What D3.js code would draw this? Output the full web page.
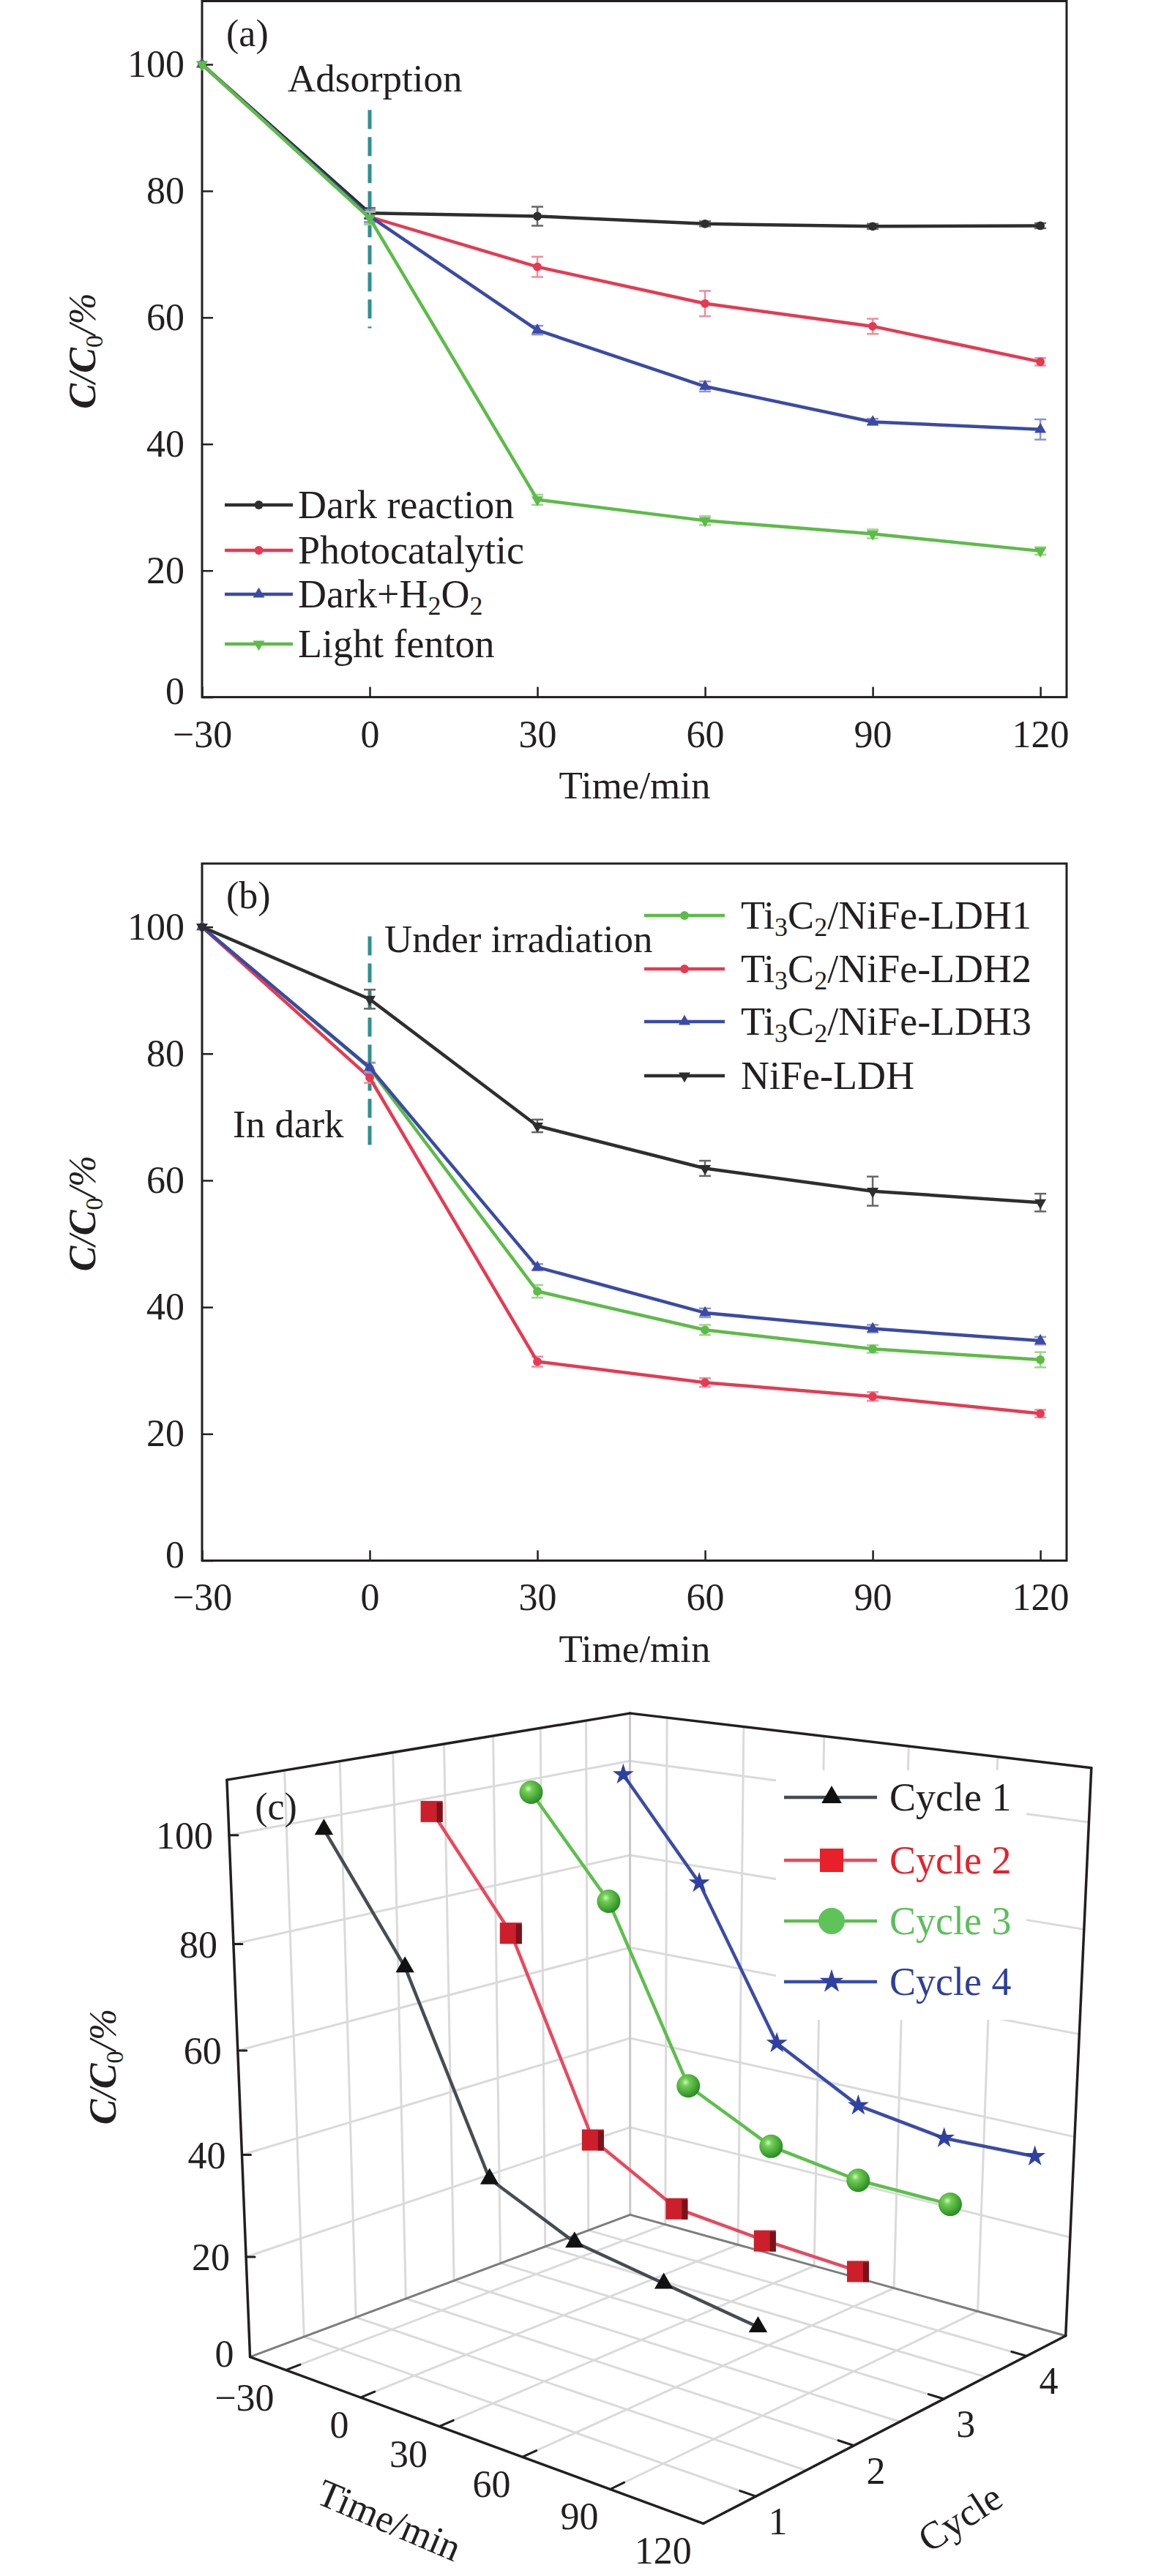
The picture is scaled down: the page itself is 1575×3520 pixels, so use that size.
<!DOCTYPE html>
<html>

<head>
    <meta charset="UTF-8" />
    <title>Degradation curves</title>
    <script src="https://d3js.org/d3.v7.min.js"></script>
    <style>
        body {
            margin: 0;
            background: #fff;
        }

        svg text {
            font-family: "Liberation Serif", "Times New Roman", serif;
            fill: #231f20;
        }
    </style>
</head>

<body>
    <svg id="fig" width="1575" height="3520"></svg>

    <script>
        // ---- shared ticks ----
        const times = [-30, 0, 30, 60, 90, 120];
        const xTicks = [-30, 0, 30, 60, 90, 120];
        const yTicks = [0, 20, 40, 60, 80, 100];

        // ---- panel (a) ----
        const darkReaction = [100, 76.5, 76.0, 74.8, 74.4, 74.5];
        const darkReactionErr = [0, 0.8, 1.5, 0.4, 0.4, 0.4];
        const photocatalytic = [100, 75.9, 68.0, 62.2, 58.6, 53.0];
        const photocatalyticErr = [0, 0.8, 1.6, 2.0, 1.2, 0.6];
        const darkH2O2 = [100, 76.0, 58.0, 49.1, 43.5, 42.3];
        const darkH2O2Err = [0, 1.0, 0.7, 0.8, 0.5, 1.6];
        const lightFenton = [100, 75.7, 31.2, 27.9, 25.8, 23.1];
        const lightFentonErr = [0, 1.0, 0.8, 0.7, 0.7, 0.6];

        // ---- panel (b) ----
        const ldh1 = [100, 77.7, 42.5, 36.4, 33.4, 31.7];
        const ldh1Err = [0, 0.8, 1.0, 0.8, 0.6, 1.2];
        const ldh2 = [100, 76.2, 31.4, 28.1, 25.9, 23.2];
        const ldh2Err = [0, 0.8, 0.8, 0.7, 0.7, 0.6];
        const ldh3 = [100, 77.8, 46.3, 39.1, 36.6, 34.7];
        const ldh3Err = [0, 0.8, 0.5, 0.7, 0.6, 0.6];
        const nife = [100, 88.6, 68.6, 61.9, 58.3, 56.5];
        const nifeErr = [0, 1.5, 1.0, 1.2, 2.3, 1.4];

        // ---- panel (c) ----
        const cycleNames = ["Cycle 1", "Cycle 2", "Cycle 3", "Cycle 4"];
        const cycleIndex = [1, 2, 3, 4];
        const cycle1 = [100.3, 77.9, 42.6, 35.4, 32.7, 30.0];
        const cycle2 = [99.9, 79.4, 43.4, 34.5, 33.0, 32.1];
        const cycle3 = [99.9, 80.9, 47.7, 39.7, 37.3, 37.1];
        const cycle4 = [99.9, 80.2, 50.5, 41.5, 38.9, 39.4];
        const cycleTicks = [1, 2, 3, 4];

        const ink = "#231f20";
        const svg = d3.select("#fig");

        // text with "_n" subscripts
        function richText(sel, str, subSize) {
            const parts = str.split(/(_\d)/).filter(s => s.length);
            let shifted = false;
            parts.forEach(p => {
                if (p[0] === "_") {
                    sel.append("tspan").attr("dy", 10).attr("font-size", subSize).text(p.slice(1));
                    shifted = true;
                } else {
                    const t = sel.append("tspan").text(p);
                    if (shifted) { t.attr("dy", -10); shifted = false; }
                }
            });
            return sel;
        }

        function yTitle(cx, cy) {
            const t = svg.append("text")
                .attr("transform", `translate(${cx},${cy}) rotate(-90)`)
                .attr("text-anchor", "middle").attr("dy", "0.35em")
                .attr("font-size", 52).attr("font-style", "italic");
            t.append("tspan").attr("font-weight", "bold").text("C");
            t.append("tspan").text("/");
            t.append("tspan").attr("font-weight", "bold").text("C");
            t.append("tspan").attr("dy", 10).attr("font-size", 34).attr("font-style", "normal").text("0");
            t.append("tspan").attr("dy", -10).text("/%");
        }

        function marker(g, type, x, y, color, size) {
            if (type === "down") {
                g.append("path").attr("d", d3.symbol(d3.symbolTriangle, size)())
                    .attr("transform", `translate(${x},${y}) rotate(180)`).attr("fill", color);
            } else {
                const t = type === "circle" ? d3.symbolCircle : d3.symbolTriangle;
                g.append("path").attr("d", d3.symbol(t, size)())
                    .attr("transform", `translate(${x},${y})`).attr("fill", color);
            }
        }

        // ---------- 2D panels ----------
        const x = d3.scaleLinear().domain([-30, 124.7]).range([276, 1457]);

        function panel2d(cfg) {
            const y = d3.scaleLinear().domain([0, 110]).range([cfg.bottom, cfg.top]);
            const g = svg.append("g");

            const ax = g.append("g").attr("transform", `translate(0,${cfg.bottom})`)
                .call(d3.axisBottom(x).tickValues(xTicks).tickSize(-14).tickPadding(31));
            const ay = g.append("g").attr("transform", `translate(${x.range()[0]},0)`)
                .call(d3.axisLeft(y).tickValues(yTicks).tickSize(-15).tickPadding(24));
            [ax, ay].forEach(a => {
                a.select(".domain").remove();
                a.attr("font-size", 52).attr("font-family", null);
                a.selectAll("line").attr("stroke", ink).attr("stroke-width", 2.5);
                a.selectAll("text").attr("fill", ink);
            });
            // keep the corner "0" clear of the "−30" below it
            ay.selectAll(".tick").filter(d => d === 0).select("text").attr("y", -8);

            g.append("rect")
                .attr("x", x.range()[0]).attr("y", cfg.top)
                .attr("width", x.range()[1] - x.range()[0]).attr("height", cfg.bottom - cfg.top)
                .attr("fill", "none").attr("stroke", ink).attr("stroke-width", 3);

            // dashed separator at t = 0
            g.append("line")
                .attr("x1", x(0)).attr("x2", x(0))
                .attr("y1", y(cfg.dash[0])).attr("y2", y(cfg.dash[1]))
                .attr("stroke", "#2f9090").attr("stroke-width", 5).attr("stroke-dasharray", "26,11");

            const line = d3.line().x((d, i) => x(times[i])).y(d => y(d));

            cfg.series.forEach(s => {
                const eg = g.append("g").attr("stroke", s.errColor).attr("stroke-width", 2.5);
                s.values.forEach((v, i) => {
                    const e = s.err[i];
                    if (!e) return;
                    const cx = x(times[i]);
                    eg.append("line").attr("x1", cx).attr("x2", cx).attr("y1", y(v - e)).attr("y2", y(v + e));
                    [v - e, v + e].forEach(w => eg.append("line")
                        .attr("x1", cx - 8).attr("x2", cx + 8).attr("y1", y(w)).attr("y2", y(w)));
                });
                g.append("path").datum(s.values).attr("d", line)
                    .attr("fill", "none").attr("stroke", s.color).attr("stroke-width", 4.5)
                    .attr("stroke-linejoin", "round");
                s.values.forEach((v, i) => marker(g, s.symbol, x(times[i]), y(v), s.color, 110));
            });

            // legend
            const lg = g.append("g");
            cfg.series.forEach((s, i) => {
                const ry = cfg.legend.rows[i];
                lg.append("line").attr("x1", cfg.legend.x0).attr("x2", cfg.legend.x1)
                    .attr("y1", ry).attr("y2", ry).attr("stroke", s.color).attr("stroke-width", 4.5);
                marker(lg, s.symbol, (cfg.legend.x0 + cfg.legend.x1) / 2, ry, s.color, 110);
                const t = lg.append("text").attr("x", cfg.legend.tx).attr("y", ry + 18).attr("font-size", 54);
                richText(t, s.name, 36);
            });

            g.append("text").attr("x", 309).attr("y", cfg.top + 61).attr("font-size", 52).text(cfg.tag);
            cfg.notes.forEach(n => g.append("text").attr("x", n.x).attr("y", n.y).attr("font-size", 53).text(n.text));
            g.append("text").attr("x", 867).attr("y", cfg.bottom + 138).attr("text-anchor", "middle")
                .attr("font-size", 53).text("Time/min");
            yTitle(112, cfg.top + 478);
        }

        panel2d({
            top: 1.5, bottom: 952.6, tag: "(a)", dash: [92.8, 58.3],
            series: [
                { name: "Dark reaction", values: darkReaction, err: darkReactionErr, color: "#2e2e2e", errColor: "#666", symbol: "circle" },
                { name: "Photocatalytic", values: photocatalytic, err: photocatalyticErr, color: "#e63a52", errColor: "#ee8d9c", symbol: "circle" },
                { name: "Dark+H_2O_2", values: darkH2O2, err: darkH2O2Err, color: "#3a4aa6", errColor: "#8d94cc", symbol: "triangle" },
                { name: "Light fenton", values: lightFenton, err: lightFentonErr, color: "#5cbc47", errColor: "#9bd68c", symbol: "down" }
            ],
            legend: { x0: 307, x1: 400, tx: 407, rows: [690, 752, 812, 880] },
            notes: [{ text: "Adsorption", x: 393, y: 125 }]
        });

        panel2d({
            top: 1180, bottom: 2132.5, tag: "(b)", dash: [98.5, 64.4],
            series: [
                { name: "Ti_3C_2/NiFe-LDH1", values: ldh1, err: ldh1Err, color: "#5cbc47", errColor: "#9bd68c", symbol: "circle" },
                { name: "Ti_3C_2/NiFe-LDH2", values: ldh2, err: ldh2Err, color: "#e63a52", errColor: "#ee8d9c", symbol: "circle" },
                { name: "Ti_3C_2/NiFe-LDH3", values: ldh3, err: ldh3Err, color: "#3a4aa6", errColor: "#8d94cc", symbol: "triangle" },
                { name: "NiFe-LDH", values: nife, err: nifeErr, color: "#2e2e2e", errColor: "#666", symbol: "down" }
            ],
            legend: { x0: 880, x1: 990, tx: 1012, rows: [1251, 1324, 1396, 1470] },
            notes: [{ text: "Under irradiation", x: 525, y: 1301 }, { text: "In dark", x: 318, y: 1554 }]
        });

        // ---------- 3D panel (c) ----------
        // box corners on screen (layout of the perspective frame)
        const boxCorners = [
            { p: [0, 0, 0], s: [344, 3221] },
            { p: [1, 0, 0], s: [959, 3449] },
            { p: [1, 1, 0], s: [1458, 3190] },
            { p: [0, 1, 0], s: [858, 3027] },
            { p: [0, 0, 1], s: [309, 2431] },
            { p: [0, 1, 1], s: [862, 2341] },
            { p: [1, 1, 1], s: [1490, 2417] }
        ];

        // least-squares perspective camera (3x4, last term fixed) from the corners
        function fitCamera(pairs) {
            const ox = 900, oy = 2850, k = 500;
            const rows = [], rhs = [];
            pairs.forEach(({ p: [X, Y, Z], s }) => {
                const px = (s[0] - ox) / k, py = (s[1] - oy) / k;
                rows.push([X, Y, Z, 1, 0, 0, 0, 0, -px * X, -px * Y, -px * Z]); rhs.push(px);
                rows.push([0, 0, 0, 0, X, Y, Z, 1, -py * X, -py * Y, -py * Z]); rhs.push(py);
            });
            const n = 11;
            const M = d3.range(n).map(i => d3.range(n + 1).map(j =>
                j < n ? d3.sum(rows, r => r[i] * r[j]) : d3.sum(rows, (r, q) => r[i] * rhs[q])));
            for (let i = 0; i < n; i++) {
                let piv = i;
                for (let r = i + 1; r < n; r++) if (Math.abs(M[r][i]) > Math.abs(M[piv][i])) piv = r;
                [M[i], M[piv]] = [M[piv], M[i]];
                for (let r = 0; r < n; r++) {
                    if (r === i) continue;
                    const f = M[r][i] / M[i][i];
                    for (let c = i; c <= n; c++) M[r][c] -= f * M[i][c];
                }
            }
            const m = M.map((row, i) => row[n] / row[i]);
            return (X, Y, Z) => {
                const d = m[8] * X + m[9] * Y + m[10] * Z + 1;
                return [ox + k * (m[0] * X + m[1] * Y + m[2] * Z + m[3]) / d,
                oy + k * (m[4] * X + m[5] * Y + m[6] * Z + m[7]) / d];
            };
        }

        const cam = fitCamera(boxCorners);
        const tS = d3.scaleLinear().domain([-45, 120]).range([0, 1]);
        const cS = d3.scaleLinear().domain([0.5, 4.5]).range([0, 1]);
        const zS = d3.scaleLinear().domain([0, 110]).range([0, 1]);
        const P = (t, c, z) => cam(tS(t), cS(c), zS(z));

        const gc = svg.append("g");
        const seg = (a, b, color, w) => gc.append("line")
            .attr("x1", a[0]).attr("y1", a[1]).attr("x2", b[0]).attr("y2", b[1])
            .attr("stroke", color).attr("stroke-width", w).attr("stroke-linecap", "round");

        const [t0, t1] = tS.domain(), [c0, c1] = cS.domain(), [z0, z1] = zS.domain();
        const gridC = d3.range(1, 4.01, 0.5);
        const gridT = [-30, 0, 30, 60, 90];
        const gridZ = [20, 40, 60, 80, 100];
        const grid = "#dadada";

        // left wall (t = min)
        gridC.forEach(c => seg(P(t0, c, z0), P(t0, c, z1), grid, 3));
        gridZ.forEach(z => seg(P(t0, c0, z), P(t0, c1, z), grid, 3));
        // back wall (cycle = max)
        gridT.forEach(t => seg(P(t, c1, z0), P(t, c1, z1), grid, 3));
        gridZ.forEach(z => seg(P(t0, c1, z), P(t1, c1, z), grid, 3));
        // floor
        gridC.forEach(c => seg(P(t0, c, z0), P(t1, c, z0), grid, 3));
        gridT.forEach(t => seg(P(t, c0, z0), P(t, c1, z0), grid, 3));
        seg(P(t0, c1, z0), P(t0, c1, z1), "#c8c8c8", 3);
        // floor back edges
        seg(P(t0, c0, z0), P(t0, c1, z0), "#7d7d7d", 3);
        seg(P(t0, c1, z0), P(t1, c1, z0), "#7d7d7d", 3);
        // frame
        [[P(t0, c0, z0), P(t0, c0, z1)], [P(t0, c0, z1), P(t0, c1, z1)], [P(t0, c1, z1), P(t1, c1, z1)],
        [P(t1, c1, z1), P(t1, c1, z0)], [P(t0, c0, z0), P(t1, c0, z0)], [P(t1, c0, z0), P(t1, c1, z0)]]
            .forEach(([a, b]) => seg(a, b, ink, 3.5));

        // ticks + labels
        yTicks.forEach(z => {
            const p = P(t0, c0, z);
            if (z > 0) seg(p, [p[0] + 12, p[1]], ink, 3);
            gc.append("text").attr("x", p[0] - 22).attr("y", p[1] - (z === 0 ? 5 : 0)).attr("dy", "0.35em")
                .attr("text-anchor", "end").attr("font-size", 52).text(z);
        });
        xTicks.forEach(t => {
            const p = P(t, c0, z0);
            if (t < 120) seg(p, P(t, c0 + 0.13, z0), ink, 3);
            gc.append("text").attr("x", p[0] - 16).attr("y", p[1] + 55)
                .attr("text-anchor", "end").attr("font-size", 52).text(String(t).replace("-", "\u2212"));
        });
        cycleTicks.forEach(c => {
            const p = P(t1, c, z0);
            seg(p, P(t1 - 5, c, z0), ink, 3);
            gc.append("text").attr("x", p[0] + 30).attr("y", p[1] + 52)
                .attr("text-anchor", "middle").attr("font-size", 52).text(c);
        });

        gc.append("text").attr("transform", "translate(532,3443) rotate(23)").attr("text-anchor", "middle")
            .attr("dy", "0.35em").attr("font-size", 53).text("Time/min");
        gc.append("text").attr("transform", "translate(1311,3440) rotate(-33)").attr("text-anchor", "middle")
            .attr("dy", "0.35em").attr("font-size", 53).text("Cycle");
        gc.append("text").attr("x", 377).attr("y", 2486).attr("text-anchor", "middle").attr("font-size", 52).text("(c)");
        yTitle(140, 2824);

        // sphere gradient
        const defs = svg.append("defs");
        const rg = defs.append("radialGradient").attr("id", "ball").attr("cx", "38%").attr("cy", "35%").attr("r", "65%");
        rg.append("stop").attr("offset", "0%").attr("stop-color", "#d4f5c4");
        rg.append("stop").attr("offset", "25%").attr("stop-color", "#72cf55");
        rg.append("stop").attr("offset", "100%").attr("stop-color", "#2a8d24");

        const cycleSeries = [
            { values: cycle1, color: "#474c53", text: ink, mark: "tri" },
            { values: cycle2, color: "#e8495c", text: "#e8202a", mark: "cube" },
            { values: cycle3, color: "#5dbf4b", text: "#5cbf5a", mark: "ball" },
            { values: cycle4, color: "#3a4ca6", text: "#2e3f98", mark: "star" }
        ];

        function mark3d(g, type, x0, y0, big) {
            if (type === "tri") {
                g.append("path").attr("d", d3.symbol(d3.symbolTriangle, big ? 330 : 280)())
                    .attr("transform", `translate(${x0},${y0})`).attr("fill", "#111");
            } else if (type === "cube") {
                if (big) {
                    g.append("rect").attr("x", x0 - 16).attr("y", y0 - 16).attr("width", 32).attr("height", 32).attr("fill", "#e8202a");
                } else {
                    g.append("rect").attr("x", x0 - 15).attr("y", y0 - 14).attr("width", 30).attr("height", 29).attr("fill", "#cc1f2b");
                    g.append("rect").attr("x", x0 + 7).attr("y", y0 - 12).attr("width", 8).attr("height", 27).attr("fill", "#7a1219");
                }
            } else if (type === "ball") {
                g.append("circle").attr("cx", x0).attr("cy", y0).attr("r", big ? 18 : 16)
                    .attr("fill", big ? "#5ec45a" : "url(#ball)");
            } else {
                g.append("path").attr("d", d3.symbol(d3.symbolStar, big ? 330 : 260)())
                    .attr("transform", `translate(${x0},${y0})`).attr("fill", "#2f41a0");
            }
        }

        // back to front
        cycleSeries.slice().reverse().forEach((s, r) => {
            const c = cycleIndex[cycleSeries.length - 1 - r];
            const pts = s.values.map((v, i) => P(times[i], c, v));
            gc.append("path").attr("d", d3.line()(pts)).attr("fill", "none")
                .attr("stroke", s.color).attr("stroke-width", 4.5).attr("stroke-linejoin", "round");
            pts.forEach(p => mark3d(gc, s.mark, p[0], p[1], false));
        });

        // legend (c)
        const lc = svg.append("g");
        lc.append("rect").attr("x", 1060).attr("y", 2419).attr("width", 342).attr("height", 341).attr("fill", "#fff");
        const legRows = [2456, 2542, 2625, 2708];
        cycleSeries.forEach((s, i) => {
            const ry = legRows[i];
            lc.append("line").attr("x1", 1071).attr("x2", 1198).attr("y1", ry).attr("y2", ry)
                .attr("stroke", s.color).attr("stroke-width", 4.5);
            mark3d(lc, s.mark, 1136, ry, true);
            lc.append("text").attr("x", 1215).attr("y", ry + 18).attr("font-size", 54)
                .style("fill", s.text).text(cycleNames[i]);
        });
    </script>
</body>

</html>
